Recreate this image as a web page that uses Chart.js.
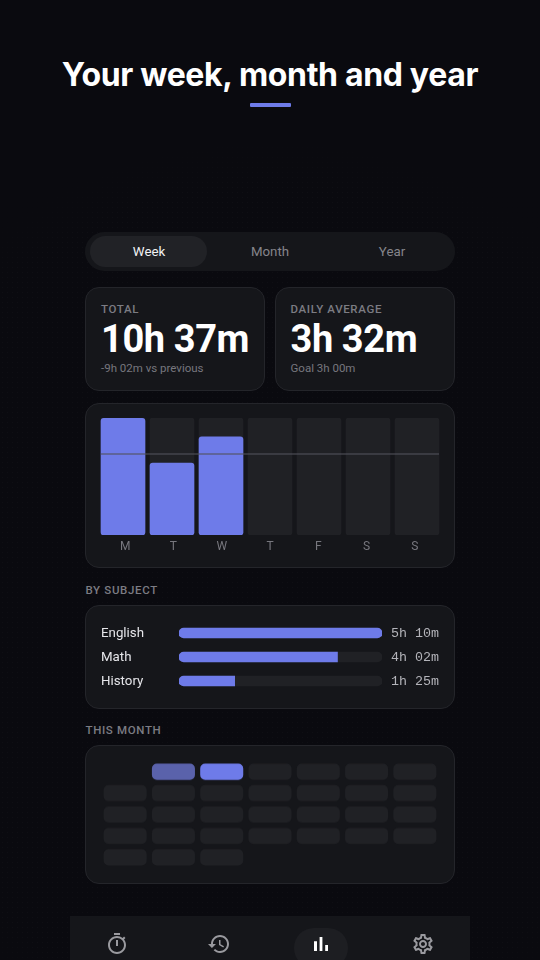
<!DOCTYPE html>
<html><head><meta charset="utf-8">
<script src="https://cdn.jsdelivr.net/npm/chart.js@4/dist/chart.umd.min.js"></script>
<style>
*{box-sizing:border-box;margin:0;padding:0}
html,body{width:540px;height:960px;overflow:hidden;background:#0a0a0f;font-family:Roboto,sans-serif}
body{position:relative}
.dots{position:absolute;left:0;top:0;width:540px;height:960px;background-image:radial-gradient(rgba(255,255,255,.022) .8px,transparent 1px);background-size:5px 5px;-webkit-mask-image:radial-gradient(circle 470px at 270px 600px,#000 88%,#0000 100%);mask-image:radial-gradient(circle 470px at 270px 600px,#000 88%,#0000 100%)}
.a{position:absolute}
.t{position:absolute;white-space:nowrap;line-height:1}
.card{position:absolute;background:#15161a;border:1px solid #24252a;border-radius:14px}
h1{position:absolute;left:0;width:540px;top:58px;text-align:center;color:#fff;font:700 32px/34px Inter,sans-serif;letter-spacing:-.34px}
canvas{position:absolute;display:block}
.lab{font:500 11.5px/1 Roboto;letter-spacing:.65px;color:#7c7c83}
.big{font:700 38px/1 Roboto;color:#fff;letter-spacing:-.4px}
.sub{font:400 11.5px/1 Roboto;color:#77777e}
.seg{font:400 13.3px/1 Roboto;color:#85858b;text-align:center;width:118px}
svg{position:absolute;width:24px;height:24px;fill:#9a9a9f}
</style></head><body>
<div class="dots"></div>
<h1>Your week, month and year</h1>
<div class="a" style="left:250px;top:103px;width:41px;height:4px;background:#6e7be9;border-radius:1px"></div>

<div class="a" style="left:85px;top:232px;width:370px;height:39px;background:#15161a;border-radius:20px"></div>
<div class="a" style="left:90px;top:236px;width:117px;height:31px;background:#212226;border-radius:16px"></div>
<div class="t seg" style="left:90px;top:245px;color:#f2f2f4">Week</div>
<div class="t seg" style="left:211px;top:245px">Month</div>
<div class="t seg" style="left:333px;top:245px">Year</div>

<div class="card" style="left:85px;top:287px;width:180px;height:104px"></div>
<div class="card" style="left:275px;top:287px;width:180px;height:104px"></div>
<div class="t lab" style="left:101px;top:304px">TOTAL</div>
<div class="t big" style="left:101px;top:320px">10h 37m</div>
<div class="t sub" style="left:101px;top:363px">-9h 02m vs previous</div>
<div class="t lab" style="left:290.5px;top:304px">DAILY AVERAGE</div>
<div class="t big" style="left:290.5px;top:320px">3h 32m</div>
<div class="t sub" style="left:290.5px;top:363px">Goal 3h 00m</div>

<div class="card" style="left:85px;top:403px;width:370px;height:165px"></div>
<canvas id="week" style="left:98px;top:418px;width:344px;height:142px"></canvas>

<div class="t lab" style="left:85.5px;top:585px">BY SUBJECT</div>
<div class="card" style="left:85px;top:605px;width:370px;height:104px"></div>
<canvas id="subj" style="left:101px;top:621px;width:338px;height:72px"></canvas>

<div class="t lab" style="left:85.5px;top:725px">THIS MONTH</div>
<div class="card" style="left:85px;top:745px;width:370px;height:139px"></div>
<canvas id="month" style="left:101px;top:761px;width:338px;height:106.5px"></canvas>

<div class="a" style="left:70px;top:916px;width:400px;height:44px;background:#15161a"></div>
<div class="a" style="left:294px;top:928px;width:54px;height:40px;background:#1d1e22;border-radius:20px"></div>
<svg style="left:105px;top:932px" viewBox="0 0 24 24"><path d="M15 1H9v2h6V1zm-4 13h2V8h-2v6zm8.03-6.61l1.42-1.42c-.43-.51-.9-.99-1.41-1.41l-1.42 1.42C16.07 4.74 14.12 4 12 4c-4.97 0-9 4.03-9 9s4.02 9 9 9 9-4.03 9-9c0-2.12-.74-4.07-1.97-5.61zM12 20c-3.87 0-7-3.13-7-7s3.13-7 7-7 7 3.13 7 7-3.13 7-7 7z"/></svg>
<svg style="left:207px;top:932px" viewBox="0 0 24 24"><path d="M13 3c-4.97 0-9 4.03-9 9H1l3.89 3.89.07.14L9 12H6c0-3.87 3.13-7 7-7s7 3.13 7 7-3.13 7-7 7c-1.93 0-3.68-.79-4.94-2.06l-1.42 1.42C8.27 19.99 10.51 21 13 21c4.97 0 9-4.03 9-9s-4.03-9-9-9zm-1 5v5l4.28 2.54.72-1.21-3.5-2.08V8H12z"/></svg>
<svg style="left:309px;top:932px;fill:#fff" viewBox="0 0 24 24"><path d="M5 9.2h3V19H5zM10.6 5h2.8v14h-2.8zm5.6 8H19v6h-2.8z"/></svg>
<svg style="left:411px;top:932px" viewBox="0 0 24 24"><path d="M19.43 12.98c.04-.32.07-.64.07-.98 0-.34-.03-.66-.07-.98l2.11-1.65c.19-.15.24-.42.12-.64l-2-3.46c-.09-.16-.26-.25-.44-.25-.06 0-.12.01-.17.03l-2.49 1c-.52-.4-1.08-.73-1.69-.98l-.38-2.65C14.46 2.18 14.25 2 14 2h-4c-.25 0-.46.18-.49.42l-.38 2.65c-.61.25-1.17.59-1.69.98l-2.49-1c-.06-.02-.12-.03-.18-.03-.17 0-.34.09-.43.25l-2 3.46c-.13.22-.07.49.12.64l2.11 1.65c-.04.32-.07.65-.07.98 0 .33.03.66.07.98l-2.11 1.65c-.19.15-.24.42-.12.64l2 3.46c.09.16.26.25.44.25.06 0 .12-.01.17-.03l2.49-1c.52.4 1.08.73 1.69.98l.38 2.65c.03.24.24.42.49.42h4c.25 0 .46-.18.49-.42l.38-2.65c.61-.25 1.17-.59 1.69-.98l2.49 1c.06.02.12.03.18.03.17 0 .34-.09.43-.25l2-3.46c.12-.22.07-.49-.12-.64l-2.11-1.65zm-1.98-1.71c.04.31.05.52.05.73 0 .21-.02.43-.05.73l-.14 1.13.89.7 1.08.84-.7 1.21-1.27-.51-1.04-.42-.9.68c-.43.32-.84.56-1.25.73l-1.06.43-.16 1.13-.2 1.35h-1.4l-.19-1.35-.16-1.13-1.06-.43c-.43-.18-.83-.41-1.23-.71l-.91-.7-1.06.43-1.27.51-.7-1.21 1.08-.84.89-.7-.14-1.13c-.03-.31-.05-.54-.05-.74s.02-.43.05-.73l.14-1.13-.89-.7-1.08-.84.7-1.21 1.27.51 1.04.42.9-.68c.43-.32.84-.56 1.25-.73l1.06-.43.16-1.13.2-1.35h1.39l.19 1.35.16 1.13 1.06.43c.43.18.83.41 1.23.71l.91.7 1.06-.43 1.27-.51.7 1.21-1.07.85-.89.7.14 1.13zM12 8c-2.21 0-4 1.79-4 4s1.79 4 4 4 4-1.79 4-4-1.79-4-4-4zm0 6c-1.1 0-2-.9-2-2s.9-2 2-2 2 .9 2 2-.9 2-2 2z"/></svg>

<script>
// ---- data (minutes) ----
const dayLabels = ['M','T','W','T','F','S','S'];
const dayMinutes = [259,160,218,0,0,0,0];
const dayScaleMax = 260;
const goalMinutes = 180;
const subjects = ['English','Math','History'];
const subjectMinutes = [310,242,85];
const subjectDurations = ['5h 10m','4h 02m','1h 25m'];
const monthWeek1 = [null,160,218,0,0,0,0];
const monthWeek2 = [0,0,0,0,0,0,0];
const monthWeek3 = [0,0,0,0,0,0,0];
const monthWeek4 = [0,0,0,0,0,0,0];
const monthWeek5 = [0,0,0,null,null,null,null];

const ACCENT = '#6e7be9', TRACK = '#202125', TICK = '#77777e';
Chart.defaults.animation = false;
Chart.defaults.responsive = false;
Chart.defaults.plugins.legend.display = false;
Chart.defaults.plugins.tooltip.enabled = false;

function sizeCanvas(id){
  const c = document.getElementById(id);
  c.width = parseFloat(c.style.width); c.height = parseFloat(c.style.height);
  return c;
}

const goalLine = {
  id:'goalLine',
  afterDatasetsDraw(chart){
    const y = chart.scales.y.getPixelForValue(goalMinutes);
    const bars = chart.getDatasetMeta(0).data;
    const l = bars[0].x - bars[0].width/2, r = bars[bars.length-1].x + bars[bars.length-1].width/2;
    const ctx = chart.ctx;
    ctx.save();
    ctx.strokeStyle='rgba(82,82,92,.72)';
    ctx.lineWidth=1.5;
    ctx.beginPath();
    ctx.moveTo(l,y); ctx.lineTo(r,y); ctx.stroke();
    ctx.restore();
  }
};

new Chart(sizeCanvas('week'),{
  type:'bar',
  data:{labels:dayLabels,datasets:[
    {data:dayLabels.map(()=>dayScaleMax),backgroundColor:TRACK,barThickness:44,borderRadius:3,borderSkipped:false,order:2},
    {data:dayMinutes.map(v=>v||null),backgroundColor:ACCENT,barThickness:44,borderRadius:3,borderSkipped:false,order:1}
  ]},
  options:{
    layout:{padding:{left:.5,right:.5,top:0,bottom:0}},
    datasets:{bar:{grouped:false}},
    scales:{
      x:{display:false,offset:true},
      x2:{type:'linear',position:'bottom',offset:false,bounds:'data',min:-0.5517,max:6.5517,
        afterBuildTicks(s){s.ticks=dayLabels.map((_,i)=>({value:i}));},
        afterFit(s){s.height=25;},
        grid:{display:false,drawTicks:false},border:{display:false},
        ticks:{autoSkip:false,maxRotation:0,padding:5,color:TICK,font:{family:'Roboto',size:12},
          callback(v){return dayLabels[v];}}},
      y:{display:false,min:0,max:dayScaleMax}
    }
  },
  plugins:[goalLine]
});

// Row captions follow the y scale's category positions
const rowCaptions = {
  id:'rowCaptions',
  afterDraw(chart){
    const {ctx,scales:{y},width} = chart;
    ctx.save();
    ctx.textBaseline='middle';
    subjects.forEach((s,i)=>{
      const py = y.getPixelForValue(i);
      ctx.textAlign='left'; ctx.fillStyle='#e6e6ea'; ctx.font='400 13.3px Roboto';
      ctx.fillText(s,0,py+1);
      ctx.textAlign='right'; ctx.fillStyle='#b4b4ba'; ctx.font='400 13.33px "Liberation Mono"';
      ctx.fillText(subjectDurations[i],width,py);
    });
    ctx.restore();
  }
};
new Chart(sizeCanvas('subj'),{
  type:'bar',
  data:{labels:subjects,datasets:[
    {data:subjects.map(()=>subjectMinutes[0]),backgroundColor:TRACK,barThickness:10,borderRadius:5,borderSkipped:false,order:2},
    {data:subjectMinutes,backgroundColor:ACCENT,barThickness:10,borderSkipped:false,order:1,
     borderRadius(c){return c.raw>=subjectMinutes[0]?5:{topLeft:5,bottomLeft:5,topRight:0,bottomRight:0};}}
  ]},
  options:{
    indexAxis:'y',
    layout:{padding:{left:78,right:57,top:0,bottom:0}},
    datasets:{bar:{grouped:false}},
    scales:{
      x:{display:false,min:0,max:subjectMinutes[0]},
      y:{display:false}
    }
  },
  plugins:[rowCaptions]
});

const monthWeeks = [monthWeek1,monthWeek2,monthWeek3,monthWeek4,monthWeek5];
const monthMax = Math.max(...monthWeeks.flat());
function cellColor(v){
  if(!v) return TRACK;
  return v===monthMax ? ACCENT : '#5a62ab';
}
new Chart(sizeCanvas('month'),{
  type:'bar',
  data:{labels:dayLabels,datasets:monthWeeks.map((w,r)=>({
    data:w.map(v=>v===null?null:[r+.136,r+.864]),
    backgroundColor:w.map(cellColor),
    barThickness:42.4,borderRadius:5,borderSkipped:false
  }))},
  options:{
    layout:{padding:0},
    datasets:{bar:{grouped:false}},
    scales:{x:{display:false},y:{display:false,reverse:true,min:0,max:monthWeeks.length}}
  }
});
</script>
</body></html>
